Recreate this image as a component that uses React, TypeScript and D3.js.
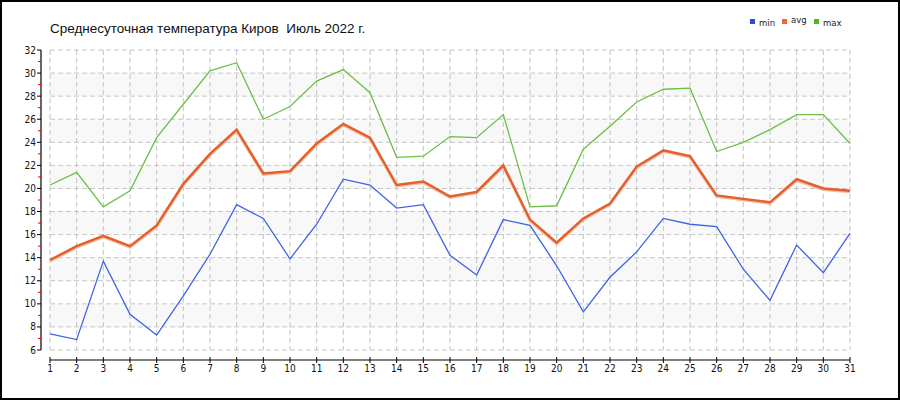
import React from "react";
import * as d3 from "d3";

const days = d3.range(1, 32);
const minT = [7.4, 6.9, 13.7, 9.1, 7.3, 10.7, 14.3, 18.6, 17.4, 13.9, 16.9, 20.8, 20.3, 18.3, 18.6, 14.2, 12.5, 17.3, 16.8, 13.3, 9.3, 12.3, 14.5, 17.4, 16.9, 16.7, 13.0, 10.3, 15.1, 12.7, 16.1];
const avgT = [13.8, 15.0, 15.9, 15.0, 16.8, 20.4, 23.0, 25.1, 21.3, 21.5, 23.9, 25.6, 24.4, 20.3, 20.6, 19.3, 19.7, 22.0, 17.3, 15.3, 17.4, 18.7, 21.9, 23.3, 22.8, 19.4, 19.1, 18.8, 20.8, 20.0, 19.8];
const maxT = [20.3, 21.4, 18.4, 19.8, 24.4, 27.3, 30.2, 30.9, 26.0, 27.1, 29.3, 30.3, 28.3, 22.7, 22.8, 24.5, 24.4, 26.4, 18.4, 18.5, 23.4, 25.4, 27.5, 28.6, 28.7, 23.2, 24.0, 25.1, 26.4, 26.4, 23.9];
const yTicks = d3.range(6, 33, 2);
const yMinorTicks = d3.range(7, 32, 2);
const bands = [8, 12, 16, 20, 24, 28];
const title = "Среднесуточная температура Киров  Июль 2022 г.";
const legendItems = [
  { name: "min", color: "#2a4fe0" },
  { name: "avg", color: "#ec6a34" },
  { name: "max", color: "#55b02a" },
];

export default function App() {
  const W = 900, H = 400;
  const x = d3.scaleLinear().domain([1, 31]).range([50, 850]);
  const y = d3.scaleLinear().domain([6, 32]).range([350, 50]);
  const line = d3.line<number>().x((_, i) => x(days[i])).y((d) => y(d));
  const font = "Tahoma, 'DejaVu Sans Condensed', 'DejaVu Sans', sans-serif";
  return (
    <svg width={W} height={H} style={{ position: "absolute", left: 0, top: 0, background: "#fff" }}>
      <rect x={1} y={1} width={W - 2} height={H - 2} fill="#fff" stroke="#000" strokeWidth={2} />
      <text x={50} y={33} fontFamily="'Liberation Sans', Arial, sans-serif" fontSize={13.5} fill="#111" style={{ whiteSpace: "pre" }}>{title}</text>
      {/* legend */}
      {legendItems.map((it, i) => (
        <g key={it.name} transform={`translate(${750 + i * 32},0)`}>
          <rect x={0} y={19} width={5} height={5} fill={it.color} />
          <text x={9} y={it.name === "avg" ? 23 : 25.5} fontFamily="'DejaVu Sans', sans-serif" fontSize={8.5} fill="#222">{it.name}</text>
        </g>
      ))}
      {/* bands */}
      {bands.map((b) => (
        <rect key={b} x={x(1)} y={y(b + 2)} width={x(31) - x(1)} height={y(b) - y(b + 2)} fill="#f8f8f8" />
      ))}
      {/* grid */}
      {yTicks.map((t) => (
        <line key={"gy" + t} x1={x(1)} x2={x(31)} y1={y(t)} y2={y(t)} stroke="#c4c4c4" strokeDasharray="5,3" />
      ))}
      {days.map((d) => (
        <line key={"gx" + d} x1={x(d)} x2={x(d)} y1={y(32)} y2={y(6)} stroke="#c4c4c4" strokeDasharray="5,3" />
      ))}
      {/* y axis */}
      <line x1={41} x2={41} y1={y(32)} y2={y(6)} stroke="#000" strokeWidth={1.2} />
      {yTicks.map((t) => (
        <g key={"yt" + t}>
          <line x1={37} x2={41} y1={y(t)} y2={y(t)} stroke="#000" />
          <text x={36} y={y(t) + 3.5} textAnchor="end" fontFamily={font} fontSize={10} fill="#111">{t}</text>
        </g>
      ))}
      {yMinorTicks.map((t) => (
        <line key={"ym" + t} x1={38} x2={41} y1={y(t)} y2={y(t)} stroke="#e00000" />
      ))}
      {/* x axis */}
      <line x1={x(1)} x2={x(31)} y1={360} y2={360} stroke="#000" strokeWidth={1.2} />
      {days.map((d) => (
        <g key={"xt" + d}>
          <line x1={x(d)} x2={x(d)} y1={357} y2={363} stroke="#000" />
          <text x={x(d)} y={372} textAnchor="middle" fontFamily={font} fontSize={10} fill="#111">{d}</text>
        </g>
      ))}
      {/* series */}
      <path d={line(maxT) || ""} fill="none" stroke="#6cbf45" strokeWidth={1.3} />
      <path d={line(minT) || ""} fill="none" stroke="#3e63e6" strokeWidth={1.3} />
      <path d={line(avgT) || ""} fill="none" stroke="#f5bca0" strokeWidth={3} transform="translate(0,1)" />
      <path d={line(avgT) || ""} fill="none" stroke="#e2602c" strokeWidth={2.4} />
    </svg>
  );
}
